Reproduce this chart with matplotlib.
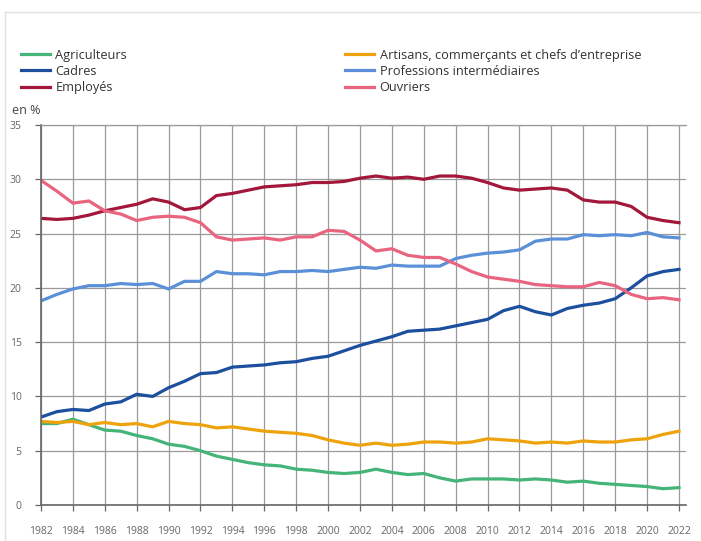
import matplotlib.pyplot as plt
from matplotlib.lines import Line2D

plt.rcParams['font.family'] = ['Open Sans', 'DejaVu Sans']

years = list(range(1982, 2023))

agriculteurs = [7.5, 7.5, 7.9, 7.4, 6.9, 6.8, 6.4, 6.1, 5.6, 5.4, 5.0, 4.5, 4.2, 3.9, 3.7, 3.6, 3.3, 3.2, 3.0, 2.9,
                3.0, 3.3, 3.0, 2.8, 2.9, 2.5, 2.2, 2.4, 2.4, 2.4, 2.3, 2.4, 2.3, 2.1, 2.2, 2.0, 1.9, 1.8, 1.7, 1.5, 1.6]
artisans = [7.7, 7.6, 7.7, 7.4, 7.6, 7.4, 7.5, 7.2, 7.7, 7.5, 7.4, 7.1, 7.2, 7.0, 6.8, 6.7, 6.6, 6.4, 6.0, 5.7,
            5.5, 5.7, 5.5, 5.6, 5.8, 5.8, 5.7, 5.8, 6.1, 6.0, 5.9, 5.7, 5.8, 5.7, 5.9, 5.8, 5.8, 6.0, 6.1, 6.5, 6.8]
cadres = [8.1, 8.6, 8.8, 8.7, 9.3, 9.5, 10.2, 10.0, 10.8, 11.4, 12.1, 12.2, 12.7, 12.8, 12.9, 13.1, 13.2, 13.5, 13.7, 14.2,
          14.7, 15.1, 15.5, 16.0, 16.1, 16.2, 16.5, 16.8, 17.1, 17.9, 18.3, 17.8, 17.5, 18.1, 18.4, 18.6, 19.0, 20.0, 21.1, 21.5, 21.7]
prof_inter = [18.8, 19.4, 19.9, 20.2, 20.2, 20.4, 20.3, 20.4, 19.9, 20.6, 20.6, 21.5, 21.3, 21.3, 21.2, 21.5, 21.5, 21.6, 21.5, 21.7,
              21.9, 21.8, 22.1, 22.0, 22.0, 22.0, 22.7, 23.0, 23.2, 23.3, 23.5, 24.3, 24.5, 24.5, 24.9, 24.8, 24.9, 24.8, 25.1, 24.7, 24.6]
employes = [26.4, 26.3, 26.4, 26.7, 27.1, 27.4, 27.7, 28.2, 27.9, 27.2, 27.4, 28.5, 28.7, 29.0, 29.3, 29.4, 29.5, 29.7, 29.7, 29.8,
            30.1, 30.3, 30.1, 30.2, 30.0, 30.3, 30.3, 30.1, 29.7, 29.2, 29.0, 29.1, 29.2, 29.0, 28.1, 27.9, 27.9, 27.5, 26.5, 26.2, 26.0]
ouvriers = [29.9, 28.9, 27.8, 28.0, 27.1, 26.8, 26.2, 26.5, 26.6, 26.5, 26.0, 24.7, 24.4, 24.5, 24.6, 24.4, 24.7, 24.7, 25.3, 25.2,
            24.4, 23.4, 23.6, 23.0, 22.8, 22.8, 22.2, 21.5, 21.0, 20.8, 20.6, 20.3, 20.2, 20.1, 20.1, 20.5, 20.2, 19.4, 19.0, 19.1, 18.9]

col1 = [('Agriculteurs', agriculteurs, '#45b478'),
        ('Cadres', cadres, '#1d4f9f'),
        ('Employés', employes, '#a3173b')]
col2 = [('Artisans, commerçants et chefs d’entreprise', artisans, '#eea20c'),
        ('Professions intermédiaires', prof_inter, '#5b8fd8'),
        ('Ouvriers', ouvriers, '#e8647f')]

fig = plt.figure(figsize=(7.01, 5.41), dpi=100)
ax = fig.add_axes([41 / 701, 36 / 541, 645 / 701, 380 / 541])

for name, vals, c in col1 + col2:
    ax.plot(years, vals, color=c, lw=2.3, label=name, solid_joinstyle='round')

ax.set_xlim(1982, 2022.44)
ax.set_ylim(0, 35)
ax.set_xticks(range(1982, 2023, 2))
ax.set_yticks(range(0, 36, 5))
ax.grid(True, color='#9a9a9a', lw=0.9)
ax.set_axisbelow(True)
ax.spines['right'].set_visible(False)
ax.spines['top'].set_color('#9a9a9a')
ax.spines['top'].set_linewidth(0.9)
ax.spines['left'].set_color('#666666')
ax.spines['bottom'].set_color('#666666')
ax.spines['left'].set_linewidth(1.2)
ax.spines['bottom'].set_linewidth(1.2)
ax.tick_params(colors='#666666', labelcolor='#666666', labelsize=7.5, length=4, width=0.9)
ax.tick_params(axis='x', pad=11)
ax.tick_params(axis='y', pad=10)

# legende sur deux colonnes
h1 = [Line2D([], [], color=c, lw=2.3) for _, _, c in col1]
h2 = [Line2D([], [], color=c, lw=2.3) for _, _, c in col2]
legs = []
for hs, cols, x0 in [(h1, col1, 21), (h2, col2, 345)]:
    leg = fig.legend(hs, [n for n, _, _ in cols], loc='upper left', bbox_to_anchor=(x0 / 701, 1 - 48.5 / 541),
                     frameon=False, fontsize=9.2, handlelength=2.25, handletextpad=0.45, labelspacing=0.27,
                     borderaxespad=0, borderpad=0)
    for t in leg.get_texts():
        t.set_color('#333333')
    legs.append(leg)

fig.text(12 / 701, 1 - 111 / 541, 'en %', fontsize=9, color='#444444', va='center', ha='left')

# cadre autour du graphique
fig.add_artist(Line2D([5 / 701, 5 / 701], [0, 1 - 12 / 541], color='#e0e0e0', lw=1))
fig.add_artist(Line2D([5 / 701, 1], [1 - 12 / 541, 1 - 12 / 541], color='#e0e0e0', lw=1))

fig.savefig('out.png', dpi=100)
